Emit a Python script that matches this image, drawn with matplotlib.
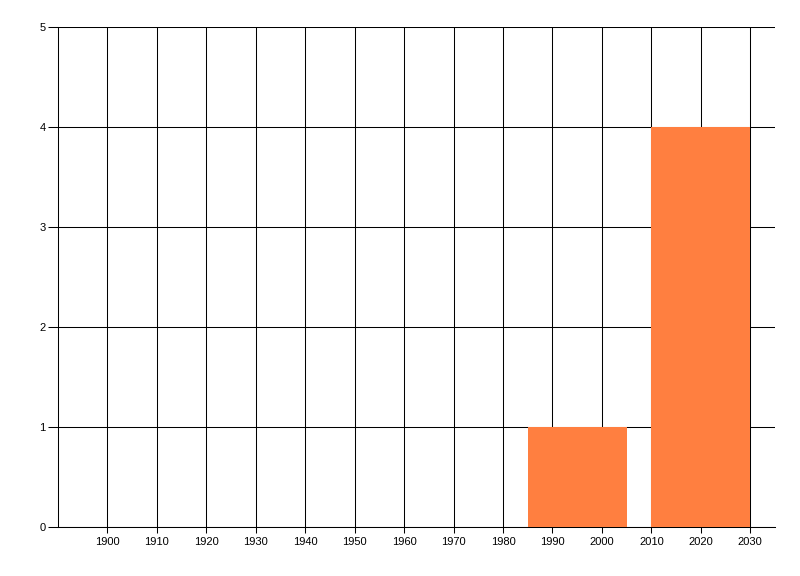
import matplotlib
matplotlib.use("Agg")
import matplotlib.pyplot as plt

# Data
bar_left = [1985, 2010]
bar_width = [20, 20]
bar_values = [1, 4]
x_ticks = list(range(1900, 2031, 10))
y_ticks = [0, 1, 2, 3, 4, 5]

plt.rcParams['font.family'] = ['Liberation Sans', 'DejaVu Sans']

fig = plt.figure(figsize=(8, 5.76), dpi=100)
ax = fig.add_axes([58/800, 1 - 527/576, (775-58)/800, (527-27)/576])

ax.bar(bar_left, bar_values, width=bar_width, align='edge', color='#FF7F40',
       linewidth=0, antialiased=False, zorder=3)

ax.set_xlim(1890, 2035)
ax.set_ylim(0, 5)
ax.set_xticks(x_ticks)
ax.set_yticks(y_ticks)
ax.grid(True, color='black', linewidth=0.75, zorder=1)
ax.set_axisbelow(True)

for s in ['top', 'right']:
    ax.spines[s].set_visible(False)
for s in ['left', 'bottom']:
    ax.spines[s].set_color('black')
    ax.spines[s].set_linewidth(0.75)

ax.tick_params(axis='x', length=4, width=0.75, labelsize=8, pad=3)
ax.tick_params(axis='y', length=7, width=0.75, labelsize=8, pad=2)

fig.savefig('out.png', dpi=100)
